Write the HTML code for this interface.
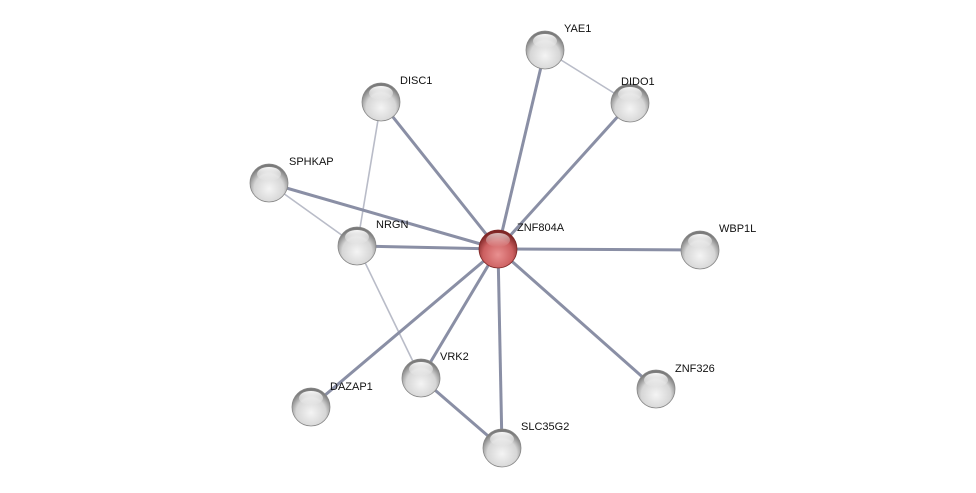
<!DOCTYPE html>
<html><head><meta charset="utf-8"><style>
html,body{margin:0;padding:0;background:#fff;}
svg{display:block;}
text{font-family:"Liberation Sans",sans-serif;font-size:11px;fill:#111;}
</style></head><body>
<svg width="976" height="493" viewBox="0 0 976 493" xmlns="http://www.w3.org/2000/svg">
<defs>
<radialGradient id="g" cx="0.5" cy="0.65" r="0.6">
<stop offset="0" stop-color="#f4f4f4"/><stop offset="0.65" stop-color="#d6d6d6"/><stop offset="1" stop-color="#7a7a7a"/>
</radialGradient>
<radialGradient id="r" cx="0.5" cy="0.65" r="0.6">
<stop offset="0" stop-color="#e99090"/><stop offset="0.65" stop-color="#cc5f60"/><stop offset="1" stop-color="#7e2626"/>
</radialGradient>
<linearGradient id="hl" x1="0" y1="0" x2="0" y2="1">
<stop offset="0" stop-color="#fff" stop-opacity="0.95"/><stop offset="1" stop-color="#fff" stop-opacity="0"/>
</linearGradient>
</defs>
<g stroke="#b9bcc8" stroke-width="1.6">
<line x1="545" y1="50" x2="630" y2="103"/>
<line x1="381" y1="102" x2="357" y2="246"/>
<line x1="269" y1="183" x2="357" y2="246"/>
<line x1="357" y1="246" x2="421" y2="378"/>
</g>
<g stroke="#8a8fa5" stroke-width="3">
<line x1="498" y1="249" x2="545" y2="50"/>
<line x1="498" y1="249" x2="630" y2="103"/>
<line x1="498" y1="249" x2="381" y2="102"/>
<line x1="498" y1="249" x2="269" y2="183"/>
<line x1="498" y1="249" x2="357" y2="246"/>
<line x1="498" y1="249" x2="700" y2="250"/>
<line x1="498" y1="249" x2="656" y2="389"/>
<line x1="498" y1="249" x2="502" y2="448"/>
<line x1="498" y1="249" x2="421" y2="378"/>
<line x1="498" y1="249" x2="311" y2="407"/>
<line x1="421" y1="378" x2="502" y2="448"/>
</g>
<g id="nodes">
<g transform="translate(545,50)"><circle r="19" fill="url(#g)" stroke="#888" stroke-width="0.8"/><ellipse cy="-9" rx="12" ry="7" fill="url(#hl)"/></g>
<g transform="translate(630,103)"><circle r="19" fill="url(#g)" stroke="#888" stroke-width="0.8"/><ellipse cy="-9" rx="12" ry="7" fill="url(#hl)"/></g>
<g transform="translate(381,102)"><circle r="19" fill="url(#g)" stroke="#888" stroke-width="0.8"/><ellipse cy="-9" rx="12" ry="7" fill="url(#hl)"/></g>
<g transform="translate(269,183)"><circle r="19" fill="url(#g)" stroke="#888" stroke-width="0.8"/><ellipse cy="-9" rx="12" ry="7" fill="url(#hl)"/></g>
<g transform="translate(357,246)"><circle r="19" fill="url(#g)" stroke="#888" stroke-width="0.8"/><ellipse cy="-9" rx="12" ry="7" fill="url(#hl)"/></g>
<g transform="translate(700,250)"><circle r="19" fill="url(#g)" stroke="#888" stroke-width="0.8"/><ellipse cy="-9" rx="12" ry="7" fill="url(#hl)"/></g>
<g transform="translate(656,389)"><circle r="19" fill="url(#g)" stroke="#888" stroke-width="0.8"/><ellipse cy="-9" rx="12" ry="7" fill="url(#hl)"/></g>
<g transform="translate(502,448)"><circle r="19" fill="url(#g)" stroke="#888" stroke-width="0.8"/><ellipse cy="-9" rx="12" ry="7" fill="url(#hl)"/></g>
<g transform="translate(421,378)"><circle r="19" fill="url(#g)" stroke="#888" stroke-width="0.8"/><ellipse cy="-9" rx="12" ry="7" fill="url(#hl)"/></g>
<g transform="translate(311,407)"><circle r="19" fill="url(#g)" stroke="#888" stroke-width="0.8"/><ellipse cy="-9" rx="12" ry="7" fill="url(#hl)"/></g>
<g transform="translate(498,249)"><circle r="19" fill="url(#r)" stroke="#7e2626" stroke-width="0.8"/><ellipse cy="-9" rx="12" ry="7" fill="url(#hl)" opacity="0.7"/></g>
</g>
<text x="564" y="32">YAE1</text>
<text x="621" y="85">DIDO1</text>
<text x="400" y="84">DISC1</text>
<text x="289" y="165">SPHKAP</text>
<text x="376" y="228">NRGN</text>
<text x="517" y="231">ZNF804A</text>
<text x="719" y="232">WBP1L</text>
<text x="675" y="372">ZNF326</text>
<text x="440" y="360">VRK2</text>
<text x="330" y="390">DAZAP1</text>
<text x="521" y="430">SLC35G2</text>
</svg>
</body></html>
